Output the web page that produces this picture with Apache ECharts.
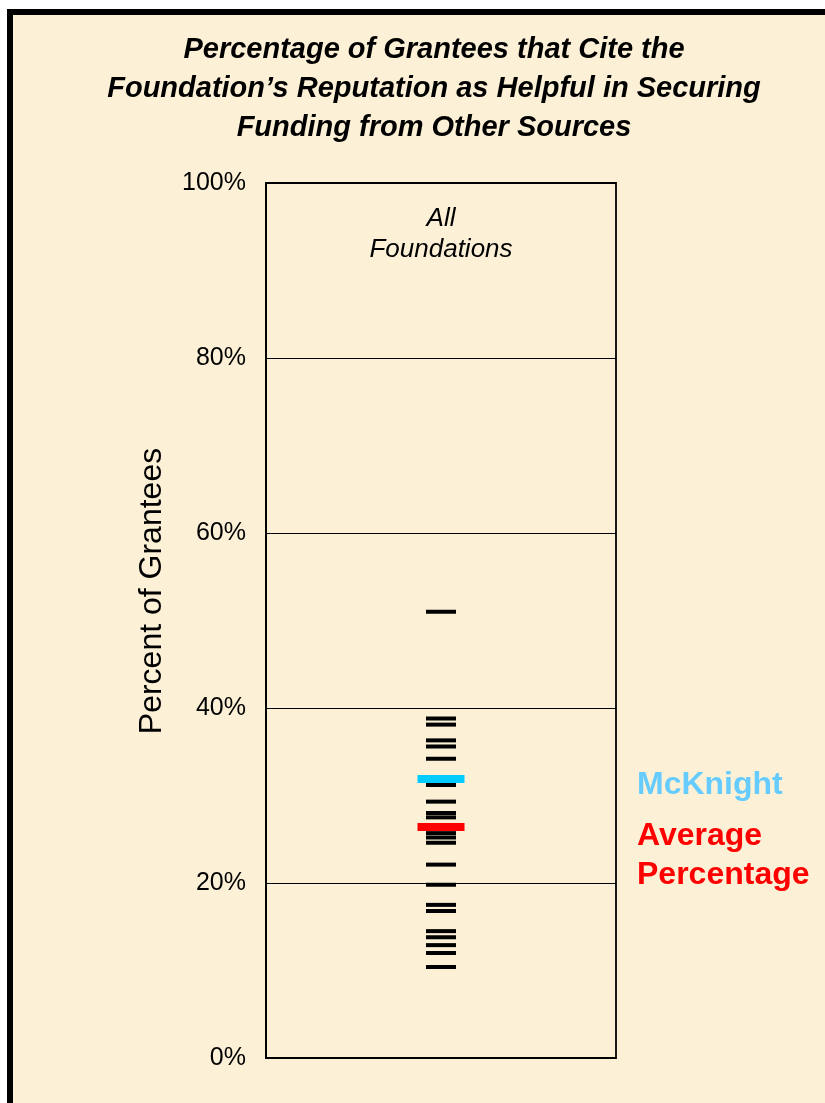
<!DOCTYPE html>
<html>
<head>
<meta charset="utf-8">
<script src="https://cdn.jsdelivr.net/npm/echarts@6/dist/echarts.min.js"></script>
<style>
  html, body { margin: 0; padding: 0; background: #ffffff; }
  #frame {
    position: absolute; left: 7px; top: 9px; width: 830px; height: 1110px;
    box-sizing: border-box; border-left: 6px solid #000; border-top: 6px solid #000;
    background: #FCF1D6;
  }
  #chart { position: absolute; left: 0; top: 0; width: 825px; height: 1103px; }
</style>
</head>
<body>
<div id="frame"></div>
<div id="chart"></div>
<script>
// Single category shown in the panel
const categories = ['All Foundations'];

// Percent of grantees for each foundation in the comparison set
const foundationValues = [
  51.0, 38.8, 38.1, 36.3, 35.6, 34.2, 31.2, 29.3, 28.0, 27.5, 25.7,
  25.2, 24.6, 22.1, 19.8, 17.5, 16.8, 14.5, 13.8, 12.9, 12.0, 10.4
];
const mcKnightValue = [31.9];
const averageValue = [26.4];

// Y axis tick values
const yTicks = [0, 20, 40, 60, 80, 100];

const FONT = '"Liberation Sans", Arial, sans-serif';

const chart = echarts.init(document.getElementById('chart'), null, { renderer: 'canvas' });

const toPoints = arr => arr.map(v => [categories[0], v]);

chart.setOption({
  backgroundColor: 'transparent',
  animation: false,
  textStyle: { fontFamily: FONT },
  title: {
    text: 'Percentage of Grantees that Cite the\nFoundation\u2019s Reputation as Helpful in Securing\nFunding from Other Sources',
    left: 429, top: 25, textAlign: 'center',
    textStyle: {
      fontFamily: FONT,
      fontSize: 29, fontWeight: 'bold', fontStyle: 'italic',
      color: '#000', lineHeight: 39
    }
  },
  grid: {
    left: 266, top: 183, width: 350, height: 875,
    show: true, borderColor: '#000', borderWidth: 1.8, backgroundColor: 'transparent'
  },
  xAxis: {
    type: 'category',
    data: categories,
    position: 'top',
    axisLine: { show: false },
    axisTick: { show: false },
    axisLabel: {
      inside: true, margin: 20,
      formatter: v => v.replace(' ', '\n'),
      fontSize: 26, fontStyle: 'italic', color: '#000', lineHeight: 31,
      fontFamily: FONT
    }
  },
  yAxis: {
    type: 'value',
    min: yTicks[0], max: yTicks[yTicks.length - 1], interval: 20,
    axisLine: { show: true, lineStyle: { color: '#000', width: 1.8 } },
    axisTick: { show: false },
    splitLine: { show: true, lineStyle: { color: '#000', width: 1 } },
    axisLabel: {
      formatter: v => v + '%', margin: 20,
      fontSize: 25, color: '#000', fontFamily: FONT
    }
  },
  series: [
    {
      name: 'Foundations', type: 'scatter', z: 3,
      symbol: 'rect', symbolSize: [30, 4],
      itemStyle: { color: '#000', opacity: 1 },
      data: toPoints(foundationValues)
    },
    {
      name: 'McKnight', type: 'scatter', z: 4,
      symbol: 'rect', symbolSize: [47, 8],
      itemStyle: { color: '#00CCFF', opacity: 1 },
      data: toPoints(mcKnightValue)
    },
    {
      name: 'Average Percentage', type: 'scatter', z: 5,
      symbol: 'rect', symbolSize: [47, 8],
      itemStyle: { color: '#FF0000', opacity: 1 },
      data: toPoints(averageValue)
    }
  ],
  graphic: [
    {
      // value axis title
      type: 'text', x: 152, y: 591, rotation: Math.PI / 2,
      style: {
        text: 'Percent of Grantees', fill: '#000',
        align: 'center', verticalAlign: 'middle',
        font: '32px ' + FONT
      }
    },
    {
      type: 'text', left: 637, top: 769,
      style: {
        text: 'McKnight', fill: '#66CCFF',
        font: 'bold 32px ' + FONT
      }
    },
    {
      type: 'text', left: 637, top: 817,
      style: {
        text: 'Average\nPercentage', fill: '#FF0000', lineHeight: 39,
        font: 'bold 32px ' + FONT
      }
    }
  ]
});
</script>
</body>
</html>
